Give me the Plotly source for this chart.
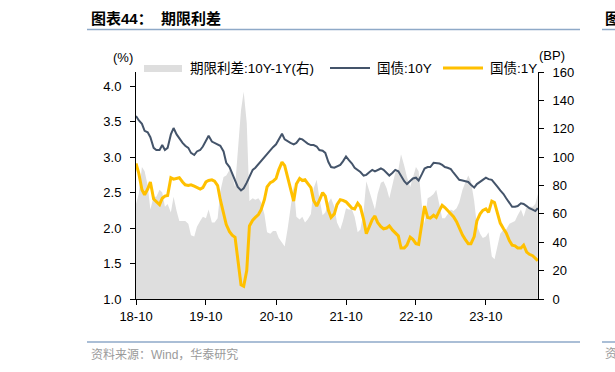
import pandas as pd
import plotly.graph_objects as go

# half-month observation dates (1st and 15th of each month), plus the last observation
dates = [d.strftime("%Y-%m-%d") for d in pd.date_range("2018-10-01", "2024-06-15", freq="SMS")] + ["2024-06-28"]

# 国债:10Y (%)
cgb_10y = [3.58, 3.52, 3.47, 3.37, 3.35, 3.28, 3.13, 3.10, 3.10, 3.17, 3.10, 3.13, 3.32, 3.41, 3.32,
           3.26, 3.20, 3.16, 3.13, 3.06, 3.03, 3.08, 3.10, 3.15, 3.22, 3.30, 3.22, 3.20, 3.17, 3.16,
           3.08, 2.92, 2.86, 2.77, 2.66, 2.58, 2.53, 2.56, 2.64, 2.72, 2.82, 2.85, 2.90, 2.94, 3.00,
           3.05, 3.10, 3.14, 3.18, 3.25, 3.33, 3.25, 3.22, 3.20,
           3.18, 3.20, 3.26, 3.25, 3.22, 3.19, 3.17, 3.17, 3.15, 3.10, 3.09, 3.06, 2.93, 2.86, 2.85,
           2.87, 2.89, 2.94, 3.01, 2.96, 2.91, 2.85, 2.82, 2.79,
           2.74, 2.75, 2.79, 2.82, 2.80, 2.82, 2.84, 2.82, 2.78, 2.74, 2.78, 2.82, 2.80, 2.74, 2.66,
           2.62, 2.66, 2.70, 2.71, 2.67, 2.76, 2.84, 2.86, 2.86,
           2.92, 2.92, 2.91, 2.89, 2.86, 2.85, 2.83, 2.78, 2.73, 2.68, 2.67, 2.66, 2.65, 2.61, 2.57,
           2.62, 2.66, 2.68, 2.71, 2.69, 2.68, 2.64, 2.58, 2.53,
           2.48, 2.42, 2.35, 2.30, 2.30, 2.31, 2.35, 2.34, 2.31, 2.28, 2.26, 2.24, 2.28]

# 国债:1Y (%)
cgb_1y = [2.91, 2.78, 2.54, 2.47, 2.55, 2.65, 2.41, 2.38, 2.33, 2.42, 2.45, 2.46, 2.71, 2.69, 2.70,
          2.71, 2.65, 2.61, 2.60, 2.61, 2.59, 2.57, 2.55, 2.57, 2.65, 2.67, 2.68, 2.66, 2.60, 2.40,
          2.22, 2.05, 1.95, 1.90, 1.87, 1.55, 1.20, 1.18, 1.40, 2.03, 2.11, 2.15, 2.19, 2.26, 2.40,
          2.58, 2.64, 2.66, 2.70, 2.82, 2.93, 2.88, 2.72, 2.55,
          2.38, 2.62, 2.70, 2.67, 2.68, 2.63, 2.57, 2.39, 2.31, 2.39, 2.50, 2.45, 2.25, 2.15, 2.20,
          2.33, 2.40, 2.39, 2.37, 2.33, 2.28, 2.27, 2.35, 2.30,
          2.12, 1.92, 2.04, 2.12, 2.17, 2.08, 2.02, 1.99, 2.00, 2.03, 1.97, 1.93, 1.89, 1.72, 1.72,
          1.76, 1.87, 1.84, 1.78, 1.77, 2.10, 2.31, 2.15, 2.14,
          2.18, 2.15, 2.25, 2.32, 2.29, 2.25, 2.20, 2.16, 2.09, 2.00, 1.90, 1.84, 1.78, 1.78, 1.88,
          2.10, 2.20, 2.25, 2.27, 2.22, 2.38, 2.36, 2.20, 2.07,
          1.99, 1.93, 1.82, 1.76, 1.75, 1.72, 1.72, 1.76, 1.66, 1.63, 1.61, 1.57, 1.54]

# 期限利差:10Y-1Y (BP, right axis)
spread_bp = [67, 74, 93, 90, 80, 63, 72, 72, 77, 75, 65, 67, 61, 72, 62,
             55, 55, 55, 53, 45, 44, 51, 55, 58, 57, 63, 54, 54, 57, 76,
             86, 87, 91, 87, 79, 103, 133, 146, 124, 69, 71, 70, 71, 68, 60,
             47, 46, 48, 48, 43, 40, 37, 50, 65,
             80, 58, 56, 58, 54, 56, 60, 78, 84, 71, 59, 61, 68, 71, 65,
             54, 49, 55, 64, 63, 63, 58, 47, 49,
             62, 83, 75, 70, 63, 74, 82, 83, 78, 71, 81, 89, 91, 102, 94,
             86, 79, 86, 93, 90, 66, 53, 71, 72,
             74, 77, 66, 57, 57, 60, 63, 62, 64, 68, 77, 82, 87, 83, 69,
             52, 46, 43, 44, 47, 30, 28, 38, 46,
             49, 49, 53, 54, 55, 59, 63, 58, 65, 65, 65, 67, 74]

x_tickvals = ["2018-10-01", "2019-10-01", "2020-10-01", "2021-10-01", "2022-10-01", "2023-10-01"]
x_ticktext = ["18-10", "19-10", "20-10", "21-10", "22-10", "23-10"]
left_ticks = [1.0, 1.5, 2.0, 2.5, 3.0, 3.5, 4.0]
right_ticks = [0, 20, 40, 60, 80, 100, 120, 140, 160]

legend_names = ["期限利差:10Y-1Y(右)", "国债:10Y", "国债:1Y"]

FONT = "Liberation Sans, Arial, Noto Sans CJK SC, sans-serif"
C_AREA = "#DEDEDE"
C_10Y = "#44546A"
C_1Y = "#FFC000"

W, H = 615, 372
L, R, T, B = 136, 538, 72, 299


def px(x):
    return (x - L) / (R - L)


def py(y):
    return (B - y) / (B - T)


fig = go.Figure()
fig.add_trace(go.Scatter(x=dates, y=spread_bp, name=legend_names[0], mode="lines",
                         line=dict(width=0, color=C_AREA), fill="tozeroy", fillcolor=C_AREA,
                         yaxis="y", showlegend=False))
fig.add_trace(go.Scatter(x=dates, y=cgb_10y, name=legend_names[1], mode="lines",
                         line=dict(width=2, color=C_10Y), yaxis="y2", showlegend=False))
fig.add_trace(go.Scatter(x=dates, y=cgb_1y, name=legend_names[2], mode="lines",
                         line=dict(width=3, color=C_1Y), yaxis="y2", showlegend=False))

axis_common = dict(showline=True, linecolor="black", linewidth=1, ticks="outside", ticklen=5,
                   tickcolor="black", showgrid=False, zeroline=False,
                   tickfont=dict(family=FONT, size=13, color="black"))

fig.update_layout(
    width=W, height=H,
    margin=dict(l=L, r=W - R, t=T, b=H - B, pad=0),
    paper_bgcolor="white", plot_bgcolor="white",
    font=dict(family=FONT, size=13, color="black"),
    xaxis=dict(type="date", range=["2018-10-01", "2024-06-29"], tickvals=x_tickvals,
               ticktext=x_ticktext, **axis_common),
    yaxis=dict(side="right", range=[0, 160], tickvals=right_ticks, ticklabelstandoff=6,
               **axis_common),
    yaxis2=dict(side="left", overlaying="y", range=[1, 4.2], tickvals=left_ticks,
                tickformat=".1f", ticklabelstandoff=6, **axis_common),
)

shapes = []
annotations = []

# title, rules and source
annotations.append(dict(text="<b>图表44：\u00a0\u00a0期限利差</b>", x=px(89), y=py(19), xref="paper",
                        yref="paper", xanchor="left", yanchor="middle", showarrow=False,
                        font=dict(family=FONT, size=15, color="black")))
shapes.append(dict(type="line", xref="paper", yref="paper", x0=px(87), x1=px(580), y0=py(29.5),
                   y1=py(29.5), line=dict(color="#8EA9C8", width=1.5)))
shapes.append(dict(type="line", xref="paper", yref="paper", x0=px(87), x1=px(580), y0=py(342),
                   y1=py(342), line=dict(color="#8EA9C8", width=1.5)))
annotations.append(dict(text="资料来源：Wind，华泰研究", x=px(89), y=py(354), xref="paper",
                        yref="paper", xanchor="left", yanchor="middle", showarrow=False,
                        font=dict(family=FONT, size=12, color="#9A9A9A")))
# neighbouring panel edge
shapes.append(dict(type="line", xref="paper", yref="paper", x0=px(602), x1=px(616), y0=py(29.5),
                   y1=py(29.5), line=dict(color="#8EA9C8", width=1.5)))
shapes.append(dict(type="line", xref="paper", yref="paper", x0=px(602), x1=px(616), y0=py(342),
                   y1=py(342), line=dict(color="#8EA9C8", width=1.5)))
annotations.append(dict(text="<b>图</b>", x=px(603), y=py(19), xref="paper", yref="paper",
                        xanchor="left", yanchor="middle", showarrow=False,
                        font=dict(family=FONT, size=15, color="black")))
annotations.append(dict(text="资", x=px(603), y=py(354), xref="paper", yref="paper",
                        xanchor="left", yanchor="middle", showarrow=False,
                        font=dict(family=FONT, size=12, color="#9A9A9A")))

# axis units
annotations.append(dict(text="(%)", x=px(123), y=py(58), xref="paper", yref="paper",
                        xanchor="center", yanchor="middle", showarrow=False,
                        font=dict(family=FONT, size=13, color="black")))
annotations.append(dict(text="(BP)", x=px(552), y=py(55), xref="paper", yref="paper",
                        xanchor="center", yanchor="middle", showarrow=False,
                        font=dict(family=FONT, size=13, color="black")))

# legend
LY = 68
shapes.append(dict(type="rect", xref="paper", yref="paper", x0=px(144), x1=px(182), y0=py(72),
                   y1=py(65), fillcolor=C_AREA, line=dict(width=0)))
shapes.append(dict(type="line", xref="paper", yref="paper", x0=px(330), x1=px(370), y0=py(LY),
                   y1=py(LY), line=dict(color=C_10Y, width=2)))
shapes.append(dict(type="line", xref="paper", yref="paper", x0=px(443), x1=px(483), y0=py(LY),
                   y1=py(LY), line=dict(color=C_1Y, width=3)))
for name, xpos in zip(legend_names, [188, 375, 488]):
    annotations.append(dict(text=name, x=px(xpos), y=py(LY), xref="paper", yref="paper",
                            xanchor="left", yanchor="middle", showarrow=False,
                            font=dict(family=FONT, size=13.5, color="black")))

fig.update_layout(shapes=shapes, annotations=annotations)
fig.write_html("out.html", config={"displayModeBar": False},
               post_script="document.body.style.margin='0';")
